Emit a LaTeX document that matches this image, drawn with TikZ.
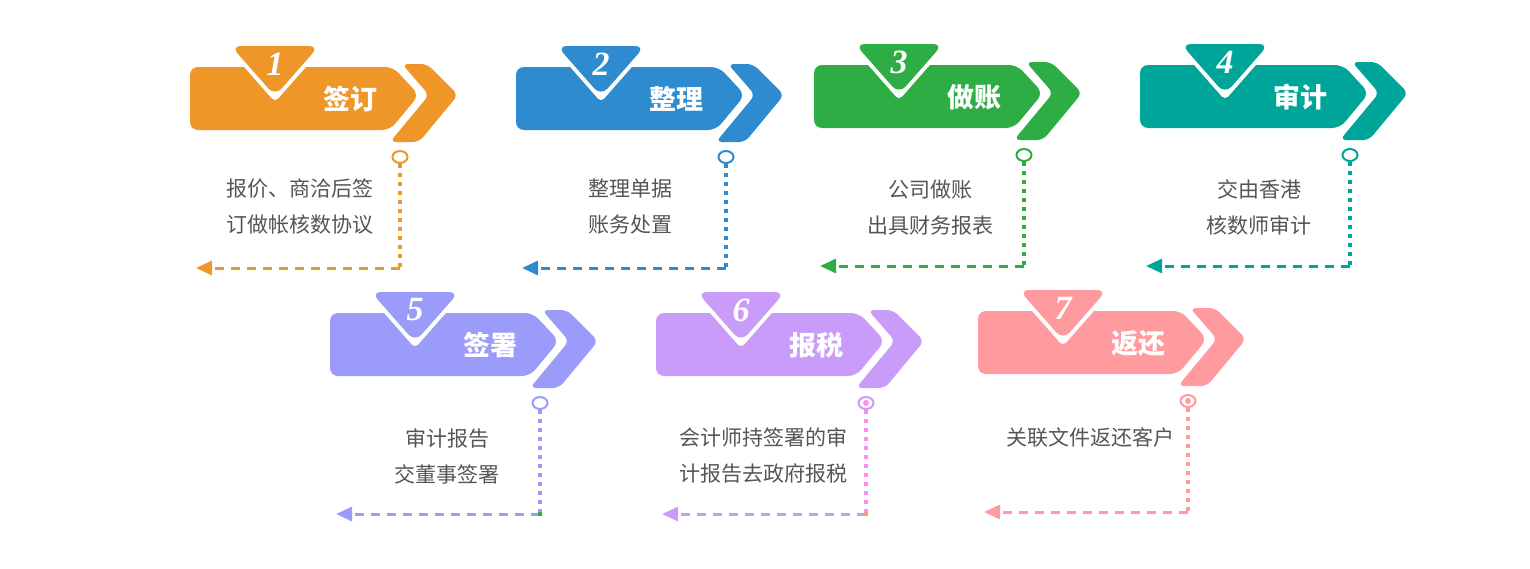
\documentclass[tikz,border=0pt]{standalone}
\usepackage{fontspec}
\setmainfont{Noto Sans CJK SC}
\newfontfamily\numfont{Liberation Serif}
\usetikzlibrary{shapes.geometric,arrows.meta}
\definecolor{cOne}{HTML}{EF9629}
\definecolor{cTwo}{HTML}{2E8BCF}
\definecolor{cThree}{HTML}{2EAD45}
\definecolor{cFour}{HTML}{00A59A}
\definecolor{cFive}{HTML}{9B9BF9}
\definecolor{cSix}{HTML}{C99CF9}
\definecolor{cSeven}{HTML}{FF9A9E}
\definecolor{vSix}{HTML}{FF8CF5}
\definecolor{dotGreen}{HTML}{2EAD45}
\definecolor{dotSalmon}{HTML}{F59A8A}
\definecolor{descgray}{HTML}{555555}
\tikzset{
 lbl/.style={text=white, inner sep=0pt, font=\fontsize{13.5}{13.5}\selectfont\bfseries},
 numlbl/.style={text=white, inner sep=0pt, font=\numfont\fontsize{17}{17}\selectfont\bfseries\itshape},
 desc/.style={text=descgray, align=center, inner sep=0pt, font=\fontsize{10.5}{18}\selectfont},
 dotv/.style={line width=2pt, dash pattern=on 2pt off 2.5pt},
 dashh/.style={line width=1.5pt, dash pattern=on 4.5pt off 3.5pt, -{Triangle[length=8pt,width=7pt]}},
 ring/.style={ellipse, draw=#1, line width=1pt, fill=white, minimum width=7.5pt, minimum height=6pt, inner sep=0pt},
 cornerdot/.style={fill=#1, minimum size=2pt, inner sep=0pt, draw=none},
}
\newcommand\flowstep[8]{%
\begin{scope}[shift={(#2,#3)}]
 \fill[#4, rounded corners=4] (0,0) -- (203,0) -- (229,28) -- (200,63) -- (0,63) -- cycle;
 \fill[#4, rounded corners=3] (212,-3) -- (237,-3) -- (268,28) -- (229,75) -- (200,75) -- (239,28) -- cycle;
 \draw[white, line width=4pt, line join=round] (41,-21) -- (129,-21) -- (85,29) -- cycle;
 \fill[#4, rounded corners=5] (41,-21) -- (129,-21) -- (85,29) -- cycle;
 \node[numlbl] (n#1) at (85,-3) {#5};
 \node[lbl] (t#1) at (160,32) {#6};
 \node[ring=#7] (r#1) at (210,90) {};
 \coordinate (k#1) at (210,201);
 \coordinate (e#1) at (6,201);
 \draw[#7, dotv] (r#1.south) -- (k#1);
 \draw[#8, dashh] (k#1) -- (e#1);
\end{scope}}
\begin{document}
\begin{tikzpicture}[x=0.5pt,y=-0.5pt]
\useasboundingbox (0,0) rectangle (1530,568);
\flowstep{1}{190}{67}{cOne}{1}{签订}{cOne}{cOne}
\flowstep{2}{516}{67}{cTwo}{2}{整理}{cTwo}{cTwo}
\flowstep{3}{814}{65}{cThree}{3}{做账}{cThree}{cThree}
\flowstep{4}{1140}{65}{cFour}{4}{审计}{cFour}{cFour}
\flowstep{5}{330}{313}{cFive}{5}{签署}{cFive}{cFive}
\flowstep{6}{656}{313}{cSix}{6}{报税}{cSix}{cSix}
\flowstep{7}{978}{311}{cSeven}{7}{返还}{cSeven}{cSeven}
% step 6: pink vertical dotted line and dotted ring
\draw[vSix, dotv] (r6.south) -- (k6);
\fill[vSix] (r6) circle (1.5pt);
\fill[cSeven] (r7) circle (1.5pt);
\node[cornerdot=dotGreen] (q5) at (k5) {};
\node[cornerdot=dotSalmon] (q6) at (k6) {};
\node[desc] (d1) at (300,207) {报价、商洽后签\\订做帐核数协议};
\node[desc] (d2) at (630,207) {整理单据\\账务处置};
\node[desc] (d3) at (930,208) {公司做账\\出具财务报表};
\node[desc] (d4) at (1259,207) {交由香港\\核数师审计};
\node[desc] (d5) at (447,456) {审计报告\\交董事签署};
\node[desc] (d6) at (763,456) {会计师持签署的审\\计报告去政府报税};
\node[desc] (d7) at (1090,438) {关联文件返还客户};
\end{tikzpicture}
\end{document}
